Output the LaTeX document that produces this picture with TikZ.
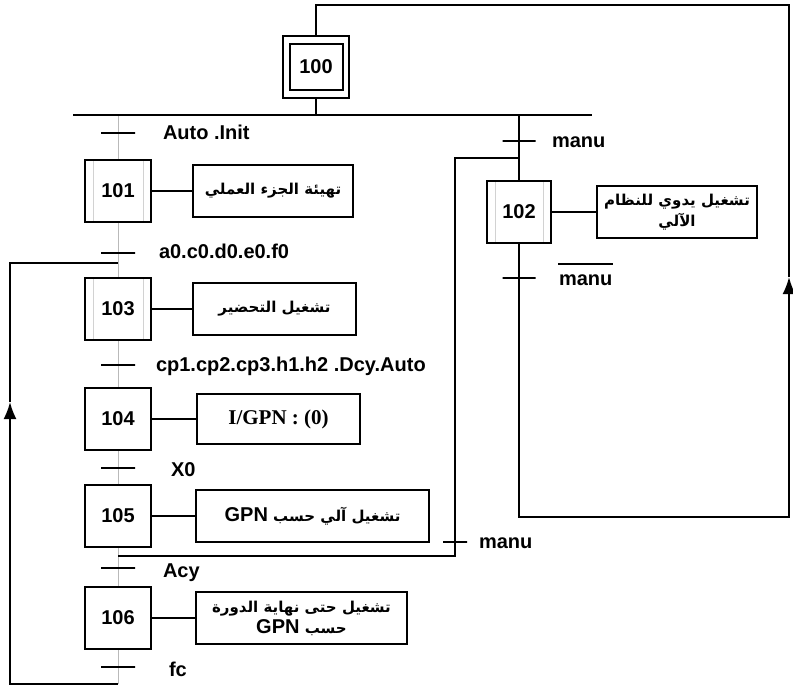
\documentclass[tikz,border=0pt]{standalone}
\usepackage{fontspec}
\setmainfont{Liberation Sans}
\newfontfamily\arabicfont[Script=Arabic]{DejaVu Sans}
\newfontfamily\timesfont{Liberation Serif}
\TeXXeTstate=1
\usetikzlibrary{arrows.meta}
\newcommand{\artxt}[1]{{\arabicfont\bfseries\beginR #1\endR}}
\newcommand{\lat}[1]{\beginL{\normalfont\bfseries\fontsize{20}{21}\selectfont #1}\endL}
\tikzset{
ST/.style={draw, fill=white, line width=2pt, minimum width=66pt, minimum height=62pt,
    inner sep=0pt, font=\bfseries\fontsize{20}{24}\selectfont},
STM/.style={ST, path picture={
    \draw[gray!35, line width=0.8pt]
      ([xshift=8pt]path picture bounding box.south west) -- ([xshift=8pt]path picture bounding box.north west)
      ([xshift=-8pt]path picture bounding box.south east) -- ([xshift=-8pt]path picture bounding box.north east);}},
AC/.style={draw, fill=white, line width=2pt, minimum height=52pt, inner sep=2pt,
    align=center, font=\fontsize{15}{21}\selectfont},
TK/.style={draw, line width=2pt, minimum width=34pt, minimum height=0pt, inner sep=0pt, outer sep=0pt},
LB/.style={anchor=base west, inner sep=0pt, font=\bfseries\fontsize{20}{24}\selectfont},
AR/.style={-{Latex[length=17pt,width=13pt]}}
}

\begin{document}
\begin{tikzpicture}[x=1pt,y=-1pt,line width=2pt]
\useasboundingbox (0,0) rectangle (793,689);

% divergence and corners
\coordinate (dL) at (73,115);
\coordinate (dR) at (592,115);
\coordinate (mtop) at (118,115);
\coordinate (mbot) at (118,684);
\coordinate (rb) at (789,517);
\coordinate (ra) at (789,277);
\coordinate (rt) at (789,5);
\coordinate (m1) at (118,556);
\coordinate (m2) at (455,556);
\coordinate (m3) at (455,158);
\coordinate (f1) at (10,684);
\coordinate (fa) at (10,402);
\coordinate (f2) at (10,263);
\coordinate (f3) at (118,263);

\draw[gray!55, line width=1pt] (mtop) -- (mbot);

% steps
\node[ST] (s100) at (316,67) {};
\node[draw, line width=2pt, minimum width=53pt, minimum height=46pt, inner sep=0pt,
      font=\bfseries\fontsize{20}{24}\selectfont] (i100) at (s100) {100};
\node[STM] (s101) at (118,191) {101};
\node[STM] (s103) at (118,309) {103};
\node[ST] (s104) at (118,419) {104};
\node[ST] (s105) at (118,516) {105};
\node[ST] (s106) at (118,618) {106};
\node[STM, minimum width=64pt] (s102) at (519,212) {102};

% actions
\node[AC, minimum width=160pt] (a101) at (273,191) {\artxt{تهيئة الجزء العملي}};
\node[AC, minimum width=163pt] (a103) at (274.5,309) {\artxt{تشغيل التحضير}};
\node[AC, minimum width=163pt, minimum height=50pt] (a104) at (278.5,419)
    {\timesfont\bfseries\fontsize{21}{24}\selectfont I/GPN : (0)};
\node[AC, minimum width=233pt] (a105) at (312.5,516)
    {\artxt{تشغيل آلي حسب \lat{GPN}}};
\node[AC, minimum width=211pt] (a106) at (301.5,618)
    {\artxt{تشغيل حتى نهاية الدورة}\\ \artxt{حسب \lat{GPN}}};
\node[AC, minimum width=160pt] (a102) at (677,212)
    {\artxt{تشغيل يدوي للنظام}\\ \artxt{الآلي}};

\draw (s101) -- (a101);
\draw (s103) -- (a103);
\draw (s104) -- (a104);
\draw (s105) -- (a105);
\draw (s106) -- (a106);
\draw (s102) -- (a102);

% transitions
\node[TK] (t1) at (118,133) {};
\node[LB] (l1) at (162,139) {Auto .Init};
\node[TK] (t2) at (118,253) {};
\node[LB] (l2) at (158,258) {a0.c0.d0.e0.f0};
\node[TK] (t3) at (118,365) {};
\node[LB] (l3) at (155,371) {cp1.cp2.cp3.h1.h2 .Dcy.Auto};
\node[TK] (t4) at (118,468) {};
\node[LB] (l4) at (170,476) {X0};
\node[TK] (t5) at (118,568) {};
\node[LB] (l5) at (162,577) {Acy};
\node[TK] (t6) at (118,667) {};
\node[LB] (l6) at (168,676) {fc};
\node[TK, minimum width=33pt] (t7) at (519,141) {};
\node[LB] (l7) at (551,147) {manu};
\node[TK, minimum width=33pt] (t8) at (519,278) {};
\node[LB] (l8) at (558,285) {manu};
\draw[line width=1.6pt] ([yshift=9pt]l8.north west) -- ([yshift=9pt]l8.north east);
\node[TK, minimum width=24pt] (t9) at (455,542) {};
\node[LB] (l9) at (478,548) {manu};

% links
\draw (dL) -- (dR);
\draw (s100) -- (s100 |- dR);
\draw (s102 |- dR) -- (s102);
\draw[AR] (s102) -- (s102 |- rb) -- (rb) -- (ra);
\draw (ra) -- (rt) -- (s100 |- rt) -- (s100);
\draw (m1) -- (m2) -- (m3) -- (s102 |- m3);
\draw[AR] (mbot) -- (f1) -- (fa);
\draw (fa) -- (f2) -- (f3);
\end{tikzpicture}
\end{document}
